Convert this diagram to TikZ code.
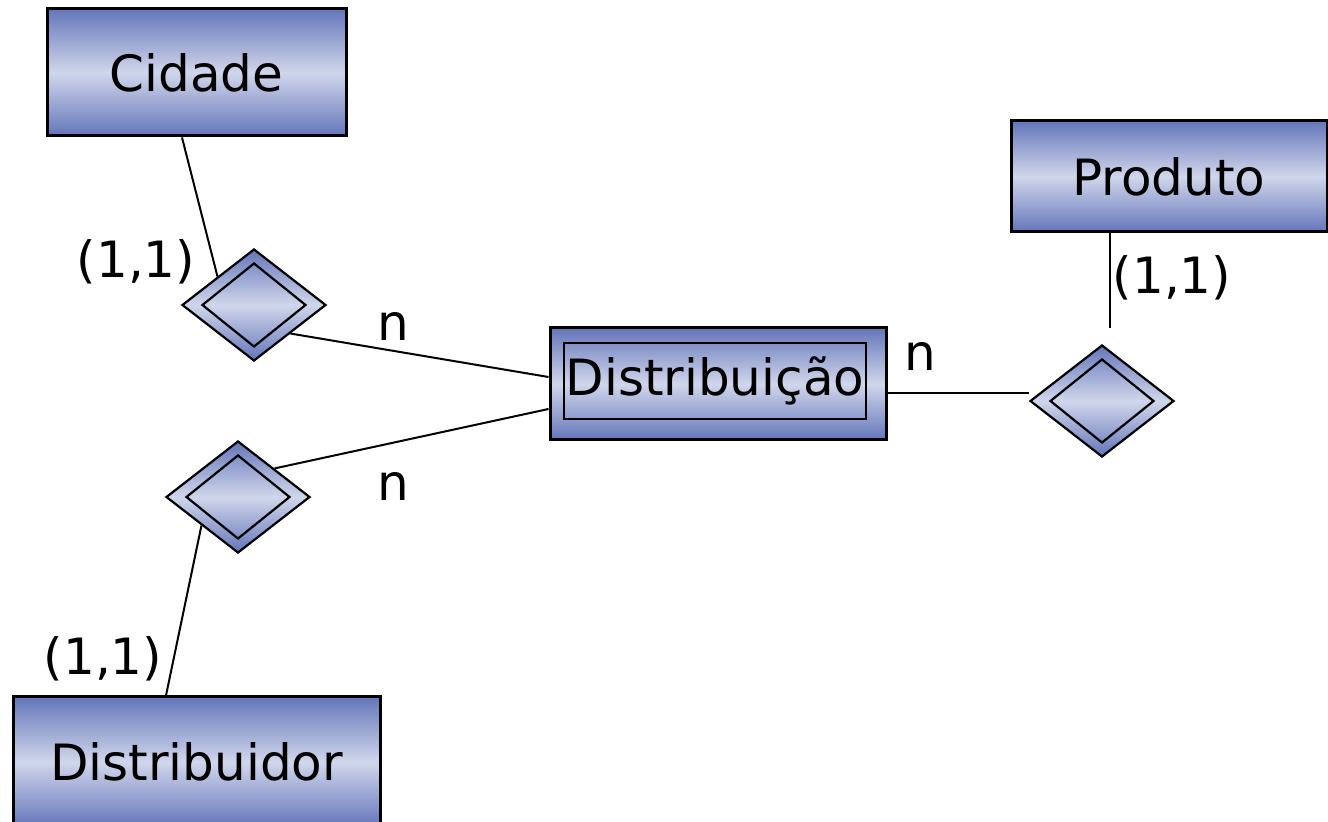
\documentclass[tikz,border=0pt]{standalone}
\usepackage{fontspec}
\setmainfont{DejaVu Sans}
\usepackage{tikz}
\usetikzlibrary{shapes.geometric}

\definecolor{erdark}{RGB}{100,118,186}
\definecolor{erlight}{RGB}{208,214,235}

\tikzset{
    entidade/.style={draw, line width=1.5pt, rectangle, inner sep=0pt,
        top color=erdark, bottom color=erdark, middle color=erlight,
        font=\fontsize{25}{30}\selectfont},
    relacao/.style={draw, line width=1.1pt, diamond, inner sep=0pt,
        top color=erdark, bottom color=erdark, middle color=erlight,
        minimum width=72pt, minimum height=56pt},
    relinterno/.style={draw, line width=1.1pt, diamond, inner sep=0pt,
        minimum width=52pt, minimum height=42pt},
    card/.style={font=\fontsize{25}{30}\selectfont},
    liga/.style={line width=1pt}
}

\begin{document}
\begin{tikzpicture}[
            x=0.5pt,   % 1単位 = 画像の1ピクセル
            y=-0.5pt   % y軸は下向き
        ]
            \clip (0,0) rectangle (1328,822);

            % エンティティ
            \node[entidade, minimum width=149.5pt, minimum height=63.5pt] (cidade) at (196.5,72.5) {Cidade};
            \node[entidade, minimum width=158pt, minimum height=55.5pt] (produto) at (1169,176.5) {Produto};
            \node[entidade, minimum width=183.5pt, minimum height=65pt] (distribuidor) at (196.5,762) {Distribuidor};

            % 弱エンティティ(二重枠)
            \node[entidade, minimum width=168pt, minimum height=56pt] (dist) at (718,384) {};
            \node[draw, line width=1.1pt, inner sep=0pt, minimum width=151pt, minimum height=38pt,
                font=\fontsize{25}{30}\selectfont] (distint) at (715,381) {Distribuição};

            % 関連(二重ひし形)
            \node[relacao] (rcid) at (254,305) {};
            \node[relinterno] (rcidint) at (rcid) {};
            \node[relacao] (rdis) at (238,497) {};
            \node[relinterno] (rdisint) at (rdis) {};
            \node[relacao] (rpro) at (1102,401) {};
            \node[relinterno] (rproint) at (rpro) {};

            % 接続線
            \draw[liga] ([xshift=-7.25pt]cidade.south) -- (rcid.north west);
            \draw[liga] (rcid.south east) -- ([yshift=3.5pt]dist.west);
            \draw[liga] (rdis.north east) -- ([yshift=-12.5pt]dist.west);
            \draw[liga] (rdis.south west) -- ([xshift=-15.25pt]distribuidor.north);
            \draw[liga] ([yshift=-4.5pt]dist.east) -- ([yshift=4pt]rpro.west);
            \coordinate (profim) at (1110,328);
            \draw[liga] ([xshift=-29.5pt]produto.south) -- (profim);

            % 多重度
            \node[card] (ccid) at (136,262) {(1,1)};
            \node[card] (ncid) at (393,327) {n};
            \node[card] (ndis) at (393,487) {n};
            \node[card] (cdis) at (103,659) {(1,1)};
            \node[card] (npro) at (920,357) {n};
            \node[card] (cpro) at (1172,278) {(1,1)};
        \end{tikzpicture}
\end{document}
